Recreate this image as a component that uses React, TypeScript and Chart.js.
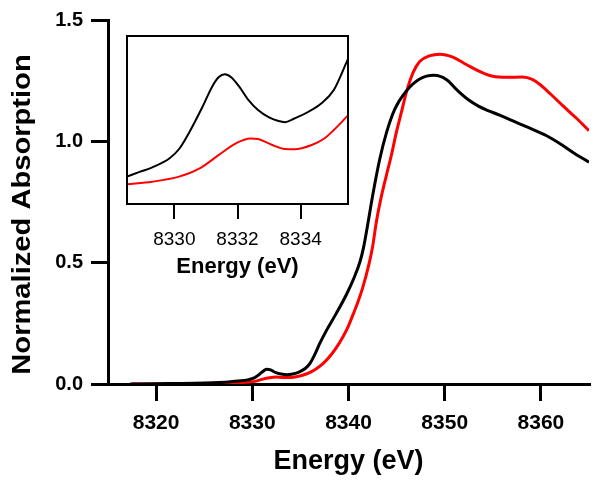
import React, { useEffect, useRef } from "react";
import { Chart, registerables } from "chart.js";

Chart.register(...registerables);

// ---- Main spectrum data (Energy in eV, normalized absorption) ----
const energyBlack = [
  8317.3, 8320, 8322, 8324, 8326, 8327.5, 8328.5, 8329.5, 8330.2, 8330.8,
  8331.2, 8331.5, 8331.9, 8332.4, 8333.0, 8333.6, 8334.2, 8334.9, 8335.5, 8336.0,
  8336.5, 8337.0, 8337.7, 8338.7, 8339.8, 8340.6, 8341.2, 8341.55, 8341.9, 8342.55,
  8343.24, 8343.94, 8344.8, 8346.0, 8347.4, 8348.9, 8350.2, 8351.4, 8352.5, 8353.5,
  8354.5, 8355.7, 8357.1, 8358.8, 8360.6, 8362.0, 8363.5, 8365.0,
];
const absBlack = [
  0.0, 0.001, 0.002, 0.003, 0.005, 0.008, 0.012, 0.017, 0.025, 0.042,
  0.055, 0.061, 0.058, 0.048, 0.041, 0.038, 0.041, 0.05, 0.064, 0.085,
  0.122, 0.166, 0.22, 0.289, 0.37, 0.44, 0.505, 0.56, 0.635, 0.785,
  0.925, 1.035, 1.132, 1.207, 1.257, 1.272, 1.254, 1.207, 1.17, 1.145,
  1.127, 1.108, 1.084, 1.055, 1.023, 0.99, 0.95, 0.914,
];

const energyRed = [
  8317.5, 8320, 8322, 8324, 8326, 8328, 8329.7, 8330.5, 8331.1, 8331.8,
  8332.5, 8333.2, 8334.1, 8334.7, 8335.3, 8336.0, 8336.7, 8337.4, 8338.0, 8338.7,
  8339.4, 8340.0, 8340.5, 8341.0, 8341.5, 8342.1, 8342.5, 8342.9, 8343.4, 8343.94,
  8344.5, 8344.97, 8345.5, 8346.0, 8346.7, 8347.4, 8348.4, 8349.5, 8350.85, 8352.0,
  8352.6, 8353.8, 8355.0, 8356.5, 8358.1, 8359.1, 8359.9, 8361.0, 8362.3, 8363.7,
  8365.0,
];
const absRed = [
  0.0, 0.0, 0.001, 0.002, 0.003, 0.005, 0.008, 0.013, 0.02, 0.026,
  0.029, 0.027, 0.027, 0.031, 0.037, 0.048, 0.064, 0.086, 0.111, 0.148,
  0.193, 0.24, 0.289, 0.34, 0.4, 0.49, 0.565, 0.669, 0.77, 0.86,
  0.95, 1.037, 1.12, 1.2, 1.282, 1.329, 1.352, 1.359, 1.347, 1.322,
  1.309, 1.285, 1.268, 1.264, 1.265, 1.255, 1.234, 1.195, 1.146, 1.095,
  1.044,
];

// ---- Inset (pre-edge) data ----
const insetEnergyBlack = [
  8328.5, 8328.9, 8329.3, 8329.85, 8330.15, 8330.5, 8330.9, 8331.2, 8331.4, 8331.6,
  8331.8, 8332.05, 8332.35, 8332.65, 8333.0, 8333.3, 8333.5, 8333.8, 8334.25, 8334.65,
  8335.05, 8335.5,
];
const insetAbsBlack = [
  -0.002, 0.001, 0.004, 0.01, 0.016, 0.028, 0.044, 0.057, 0.063, 0.065,
  0.063, 0.057, 0.048, 0.0415, 0.0367, 0.0343, 0.0336, 0.036, 0.0404, 0.0458,
  0.0546, 0.075,
];
const insetEnergyRed = [
  8328.5, 8329.3, 8330.15, 8330.8, 8331.4, 8331.95, 8332.4, 8332.65, 8333.1, 8333.5,
  8333.8, 8334.35, 8334.75, 8335.05, 8335.5,
];
const insetAbsRed = [
  -0.007, -0.0054, -0.0021, 0.0033, 0.012, 0.0197, 0.0229, 0.0225, 0.0186, 0.016,
  0.0158, 0.0186, 0.0229, 0.0284, 0.038,
];

// ---- Ticks and labels ----
const xTicks = [8320, 8330, 8340, 8350, 8360];
const xTickLabels = ["8320", "8330", "8340", "8350", "8360"];
const yTicks = [0, 0.5, 1.0, 1.5];
const yTickLabels = ["0.0", "0.5", "1.0", "1.5"];
const insetXTicks = [8330, 8332, 8334];
const insetXTickLabels = ["8330", "8332", "8334"];
const xTitle = "Energy (eV)";
const yTitle = "Normalized Absorption";

const FONT = "'Liberation Sans', Arial, Helvetica, sans-serif";
const BLACK = "#000000";
const RED = "#ff0000";

const toPoints = (xs: number[], ys: number[]) => xs.map((x, i) => ({ x, y: ys[i] }));

const yTitlePlugin = {
  id: "yTitleDraw",
  afterDraw(chart: any) {
    const ctx = chart.ctx;
    const area = chart.chartArea;
    const cy = (area.top + area.bottom) / 2 + 12.5;
    ctx.save();
    ctx.translate(23, cy);
    ctx.rotate(-Math.PI / 2);
    ctx.scale(1.12, 1);
    ctx.font = `bold 26px ${FONT}`;
    ctx.fillStyle = BLACK;
    ctx.textAlign = "center";
    ctx.textBaseline = "middle";
    ctx.fillText(yTitle, 0, 0);
    ctx.restore();
  },
};

const framePlugin = {
  id: "insetFrame",
  afterDraw(chart: any) {
    const { ctx, chartArea } = chart;
    ctx.save();
    ctx.strokeStyle = BLACK;
    ctx.lineWidth = 2;
    ctx.strokeRect(chartArea.left, chartArea.top, chartArea.right - chartArea.left, chartArea.bottom - chartArea.top);
    ctx.restore();
  },
};

export default function App() {
  const mainRef = useRef<HTMLCanvasElement | null>(null);
  const insetRef = useRef<HTMLCanvasElement | null>(null);

  useEffect(() => {
    document.body.style.margin = "0";
    if (!mainRef.current || !insetRef.current) return;

    const main = new Chart(mainRef.current, {
      type: "line",
      data: {
        datasets: [
          {
            label: "black",
            data: toPoints(energyBlack, absBlack),
            borderColor: BLACK,
            borderWidth: 3,
            pointRadius: 0,
            fill: false,
            cubicInterpolationMode: "monotone",
          },
          {
            label: "red",
            data: toPoints(energyRed, absRed),
            borderColor: RED,
            borderWidth: 3,
            pointRadius: 0,
            fill: false,
            cubicInterpolationMode: "monotone",
          },
        ],
      },
      options: {
        responsive: false,
        animation: false,
        events: [],
        layout: { padding: { left: 0, top: 17, right: 11, bottom: 0 } },
        plugins: { legend: { display: false }, tooltip: { enabled: false } },
        scales: {
          x: {
            type: "linear",
            position: "bottom",
            min: 8315,
            max: 8365,
            afterBuildTicks: (s: any) => {
              s.ticks = xTicks.map((v) => ({ value: v }));
            },
            afterFit: (s: any) => {
              s.height = 103;
            },
            grid: {
              drawOnChartArea: false,
              drawTicks: true,
              tickLength: 17,
              tickWidth: 3,
              tickColor: BLACK,
              color: BLACK,
              lineWidth: 3,
            },
            border: { display: true, color: BLACK, width: 3 },
            ticks: {
              color: BLACK,
              autoSkip: false,
              maxRotation: 0,
              padding: 10,
              font: { family: FONT, size: 21, weight: "bold" },
              callback: (_v: any, i: number) => xTickLabels[i],
            },
            title: {
              display: true,
              text: xTitle,
              color: BLACK,
              font: { family: FONT, size: 27, weight: "bold" },
              padding: { top: 0, bottom: 9 },
            },
          },
          y: {
            type: "linear",
            min: 0,
            max: 1.5,
            afterBuildTicks: (s: any) => {
              s.ticks = yTicks.map((v) => ({ value: v }));
            },
            afterFit: (s: any) => {
              s.width = 108;
            },
            grid: {
              drawOnChartArea: false,
              drawTicks: true,
              tickLength: 17,
              tickWidth: 3,
              tickColor: BLACK,
              color: BLACK,
              lineWidth: 3,
            },
            border: { display: true, color: BLACK, width: 3 },
            ticks: {
              color: BLACK,
              autoSkip: false,
              padding: 8,
              font: { family: FONT, size: 20, weight: "bold" },
              callback: (_v: any, i: number) => yTickLabels[i],
            },
          },
        },
      } as any,
      plugins: [yTitlePlugin],
    });

    const inset = new Chart(insetRef.current, {
      type: "line",
      data: {
        datasets: [
          {
            label: "black",
            data: toPoints(insetEnergyBlack, insetAbsBlack),
            borderColor: BLACK,
            borderWidth: 2,
            pointRadius: 0,
            fill: false,
            cubicInterpolationMode: "monotone",
          },
          {
            label: "red",
            data: toPoints(insetEnergyRed, insetAbsRed),
            borderColor: RED,
            borderWidth: 2,
            pointRadius: 0,
            fill: false,
            cubicInterpolationMode: "monotone",
          },
        ],
      },
      options: {
        responsive: false,
        animation: false,
        events: [],
        layout: { padding: { left: 127, top: 36, right: 252, bottom: 207 } },
        plugins: { legend: { display: false }, tooltip: { enabled: false } },
        scales: {
          x: {
            type: "linear",
            position: "bottom",
            min: 8328.5,
            max: 8335.5,
            afterBuildTicks: (s: any) => {
              s.ticks = insetXTicks.map((v) => ({ value: v }));
            },
            afterFit: (s: any) => {
              s.height = 76;
            },
            grid: {
              drawOnChartArea: false,
              drawTicks: true,
              tickLength: 15,
              tickWidth: 2,
              tickColor: BLACK,
              color: BLACK,
              lineWidth: 2,
            },
            border: { display: false },
            ticks: {
              color: BLACK,
              autoSkip: false,
              maxRotation: 0,
              padding: 9,
              font: { family: FONT, size: 19, weight: "normal" },
              callback: (_v: any, i: number) => insetXTickLabels[i],
            },
            title: {
              display: true,
              text: xTitle,
              color: BLACK,
              font: { family: FONT, size: 22, weight: "bold" },
              padding: { top: 0, bottom: 0 },
            },
          },
          y: {
            type: "linear",
            display: false,
            min: -0.02,
            max: 0.09,
          },
        },
      } as any,
      plugins: [framePlugin],
    });

    return () => {
      main.destroy();
      inset.destroy();
    };
  }, []);

  return (
    <div style={{ position: "relative", width: 600, height: 487, background: "#ffffff" }}>
      <canvas ref={mainRef} width={600} height={487} style={{ position: "absolute", left: 0, top: 0 }} />
      <canvas ref={insetRef} width={600} height={487} style={{ position: "absolute", left: 0, top: 0 }} />
    </div>
  );
}
